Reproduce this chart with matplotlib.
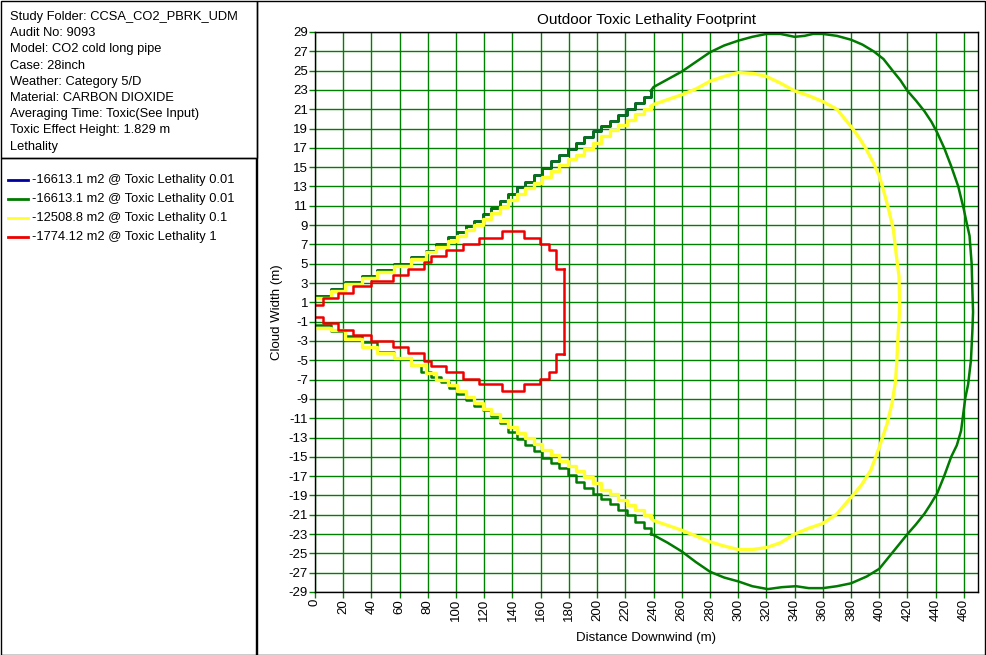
import matplotlib
matplotlib.use('Agg')
import matplotlib.pyplot as plt
from matplotlib.patches import Rectangle
from matplotlib.lines import Line2D

plt.rcParams['font.family'] = ['Liberation Sans', 'DejaVu Sans']

info_lines = [
    'Study Folder: CCSA_CO2_PBRK_UDM',
    'Audit No: 9093',
    'Model: CO2 cold long pipe',
    'Case: 28inch',
    'Weather: Category 5/D',
    'Material: CARBON DIOXIDE',
    'Averaging Time: Toxic(See Input)',
    'Toxic Effect Height: 1.829 m',
    'Lethality',
]
legend_labels = [
    '-16613.1 m2 @ Toxic Lethality 0.01',
    '-16613.1 m2 @ Toxic Lethality 0.01',
    '-12508.8 m2 @ Toxic Lethality 0.1',
    '-1774.12 m2 @ Toxic Lethality 1',
]
legend_colors = ['#0000a0', '#007a00', '#ffff30', '#ee0000']

# lethality 0.01 (outer contour), stepped part near the source
g_up_x = [0, 11, 21, 33, 44, 56, 68, 79, 86, 94, 101, 107, 113, 119, 125, 131, 137, 143, 149,
          155, 161, 167, 173, 179, 185, 191, 197, 203, 209, 215, 221, 227, 233, 238]
g_up_y = [1.65, 2.4, 3.1, 3.7, 4.3, 5.0, 5.7, 6.35, 7.0, 7.8, 8.3, 8.9, 9.4, 10.1, 10.8, 11.5,
          12.2, 12.9, 13.5, 14.2, 14.9, 15.6, 16.3, 16.9, 17.5, 18.1, 18.7, 19.3, 19.8, 20.4,
          21.0, 21.6, 22.3, 22.9]
g_lo_x = [0, 11, 21, 33, 44, 56, 68, 75, 82, 89, 95, 101, 107, 113, 119, 125, 131, 137, 143,
          149, 155, 161, 167, 173, 179, 185, 191, 197, 203, 209, 215, 221, 227, 233, 238]
g_lo_y = [-1.35, -2.0, -2.5, -3.1, -4.1, -4.8, -5.5, -6.2, -6.7, -7.3, -7.9, -8.5, -9.1, -9.7,
          -10.2, -10.8, -11.5, -12.4, -13.2, -13.8, -14.4, -15.1, -15.6, -16.2, -16.9, -17.6,
          -18.2, -18.8, -19.4, -19.9, -20.5, -21.0, -21.7, -22.4, -23.0]
# smooth far-field part, upper side round the nose to the lower side
g_far_x = [238, 240, 250, 260, 270, 280, 290, 300, 310, 320, 330, 340, 347, 353, 360, 370, 380,
           388, 396, 403, 410, 415, 420, 426, 432, 437, 441, 446, 451, 456, 460, 462, 464, 465.5,
           466, 466.5, 466, 465, 463, 461, 458, 455, 451, 446, 441, 436, 432, 426, 420, 415, 410,
           400, 391, 380, 370, 360, 350, 341, 331, 321, 310, 300, 290, 280, 270, 260, 250, 240, 238]
g_far_y = [22.9, 23.3, 24.1, 24.9, 25.9, 26.9, 27.6, 28.1, 28.5, 28.8, 28.8, 28.5, 28.6, 28.8,
           28.8, 28.6, 28.2, 27.7, 27.0, 26.2, 24.9, 24.0, 22.9, 21.9, 20.8, 19.7, 18.6, 17.0,
           15.1, 13.0, 10.6, 9.2, 7.9, 5.0, 2.3, 0.0, -2.0, -5.0, -7.5, -8.9, -12.3, -13.8,
           -15.0, -17.0, -18.8, -20.0, -20.9, -22.0, -23.0, -23.9, -24.8, -26.6, -27.4, -28.1,
           -28.4, -28.6, -28.6, -28.4, -28.5, -28.7, -28.4, -27.9, -27.5, -26.9, -25.9, -24.8,
           -23.9, -23.1, -23.0]

# lethality 0.1
y_up_x = g_up_x
y_up_y = [1.45, 2.2, 2.9, 3.5, 4.1, 4.8, 5.5, 6.2, 6.7, 7.4, 7.9, 8.5, 9.0, 9.6, 10.3, 10.9,
          11.6, 12.2, 12.8, 13.4, 14.0, 14.6, 15.2, 15.8, 16.3, 16.9, 17.5, 18.2, 18.8, 19.4,
          19.9, 20.5, 21.0, 21.3]
y_lo_x = g_up_x
y_lo_y = [-1.7, -1.9, -2.8, -3.6, -4.2, -4.8, -5.5, -6.3, -7.0, -7.6, -8.2, -8.8, -9.4, -10.0,
          -10.6, -11.3, -11.9, -12.5, -13.1, -13.7, -14.3, -14.8, -15.4, -16.0, -16.5, -17.1,
          -17.7, -18.4, -18.9, -19.5, -20.0, -20.5, -21.0, -21.3]
y_far_x = [238, 240, 250, 260, 270, 280, 290, 300, 311, 320, 330, 340, 350, 360, 370, 380, 386,
           391, 396, 400, 403, 406, 410, 412, 414, 414.5, 414, 413.5, 412.5, 411.5, 409, 405.5,
           400, 394, 387, 380, 370, 360, 350, 340, 330, 320, 310, 300, 289, 280, 270, 260, 250,
           240, 238]
y_far_y = [21.3, 21.5, 22.0, 22.5, 23.1, 23.9, 24.4, 24.8, 24.7, 24.4, 23.7, 22.9, 22.4, 21.8,
           21.0, 19.2, 18.0, 16.8, 15.4, 14.1, 12.6, 11.0, 8.55, 6.0, 3.7, 0.6, -1.0, -2.0, -5.0,
           -7.2, -9.5, -11.6, -14.0, -16.4, -18.0, -19.2, -20.9, -21.9, -22.4, -23.0, -23.9,
           -24.4, -24.6, -24.6, -24.2, -23.8, -23.2, -22.6, -22.1, -21.6, -21.3]

# lethality 1 (stepped)
r_x = [0, 5.4, 16.5, 27.1, 39.4, 55.4, 66.0, 77.1, 82.5, 93.2, 105.0, 116.3, 132.5, 147.9,
       159.7, 165.8, 170.5, 176.4]
r_up = [0.75, 1.4, 2.0, 2.65, 3.2, 3.8, 4.5, 5.2, 5.75, 6.45, 7.07, 7.65, 8.35, 7.65, 7.03,
        6.45, 4.5, 4.5]
r_lo = [-0.55, -1.14, -1.83, -2.41, -3.03, -3.66, -4.24, -5.03, -5.6, -6.24, -6.93, -7.5,
        -8.14, -7.5, -6.9, -6.24, -4.3, -4.3]

x_ticks = list(range(0, 461, 20))
y_ticks = list(range(-29, 30, 2))

W, H = 986, 655
fig = plt.figure(figsize=(W / 100, H / 100), dpi=100)

def box(x0, y0, x1, y1):
    # pixel box (top-left origin) drawn in figure coords
    fig.add_artist(Rectangle((x0 / W, 1 - y1 / H), (x1 - x0) / W, (y1 - y0) / H,
                             transform=fig.transFigure, fill=False, ec='black', lw=1.0))

box(0.5, 0.5, 256.5, 158)
box(0.5, 158, 255.5, 654.5)
box(257, 0.5, 985.5, 654.5)

for i, line in enumerate(info_lines):
    fig.text(10 / W, 1 - (17 + i * 16.2) / H, line, fontsize=9.3, va='center', ha='left')

for i, (lab, col) in enumerate(zip(legend_labels, legend_colors)):
    yy = 1 - (180 + i * 19) / H
    fig.add_artist(Line2D([8 / W, 28 / W], [yy, yy], transform=fig.transFigure, color=col, lw=2))
    fig.text(32 / W, yy, lab, fontsize=9.3, va='center', ha='left')

ax = fig.add_axes([315 / W, 1 - 592 / H, 663 / W, 560 / H])
grid_col = '#008000'

ax.plot(g_up_x, g_up_y, color=legend_colors[0], lw=1.8, drawstyle='steps-post')
ax.plot(g_up_x, g_up_y, color=legend_colors[1], lw=1.8, drawstyle='steps-post')
ax.plot(g_lo_x, g_lo_y, color=legend_colors[1], lw=1.8, drawstyle='steps-post')
ax.plot(g_far_x, g_far_y, color=legend_colors[1], lw=1.8)
ax.plot(y_up_x, y_up_y, color=legend_colors[2], lw=2.4, drawstyle='steps-post')
ax.plot(y_lo_x, y_lo_y, color=legend_colors[2], lw=2.4, drawstyle='steps-post')
ax.plot(y_far_x, y_far_y, color=legend_colors[2], lw=2.4)
ax.plot(r_x, r_up, color=legend_colors[3], lw=1.8, drawstyle='steps-post')
ax.plot(r_x, r_lo, color=legend_colors[3], lw=1.8, drawstyle='steps-post')
ax.plot([r_x[-1], r_x[-1]], [r_up[-1], r_lo[-1]], color=legend_colors[3], lw=1.8)

ax.set_xlim(0, 470)
ax.set_ylim(-29, 29)
ax.set_xticks(x_ticks)
ax.set_yticks(y_ticks)
ax.set_xticklabels([str(v) for v in x_ticks], rotation=90, fontsize=9.5)
ax.set_yticklabels([str(v) for v in y_ticks], fontsize=9.5)
ax.tick_params(length=4, width=1, color=grid_col, pad=1)
ax.grid(True, color=grid_col, lw=1.0)
ax.set_axisbelow(True)
for s in ax.spines.values():
    s.set_color('black')
    s.set_linewidth(1.0)

ax.set_title('Outdoor Toxic Lethality Footprint', fontsize=11, pad=6)
ax.set_xlabel('Distance Downwind (m)', fontsize=9.5, labelpad=8)
ax.set_ylabel('Cloud Width (m)', fontsize=9.5, labelpad=4)

fig.savefig('out.png', dpi=100)
